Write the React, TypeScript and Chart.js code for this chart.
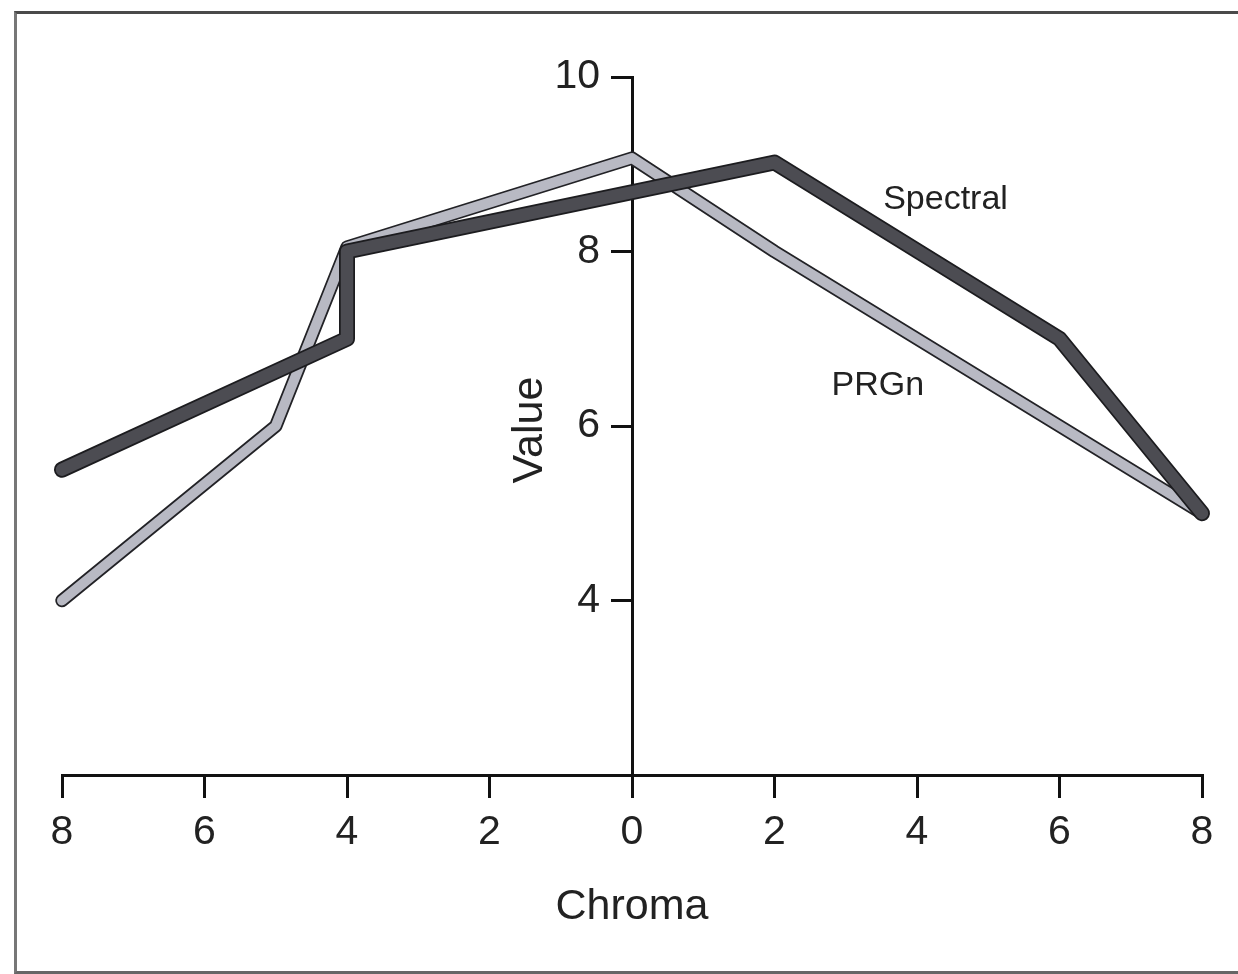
import React, { useEffect, useRef } from "react";
import { Chart, registerables } from "chart.js";

Chart.register(...registerables);

// ---- data ----
const spectralX = [-8, -4, -4, 2, 6, 8];
const spectralY = [5.5, 7.0, 8.0, 9.02, 7.0, 5.0];
const prgnX = [-8, -5, -4, 0, 2, 8];
const prgnY = [4.0, 6.0, 8.05, 9.07, 8.0, 5.0];
const xTicks = [-8, -6, -4, -2, 0, 2, 4, 6, 8];
const yTicks = [4, 6, 8, 10];
const seriesNames = ["Spectral", "PRGn"];
const labelX = [4.4, 3.45];
const labelY = [8.6, 6.46];
const yTitle = "Value";
const xTitle = "Chroma";

const FONT = "'Liberation Sans', Arial, Helvetica, sans-serif";
const Y_TICK_LEN = 20;
const Y_TICK_PAD = 12;
const Y_TITLE_GAP = 102;

const toPts = (xs: number[], ys: number[]) => xs.map((x, i) => ({ x, y: ys[i] }));

// draws the line names, the y tick labels and the y title (left of the centred y axis)
const textPlugin = {
  id: "textPlugin",
  afterDraw(chart: any) {
    const { ctx, scales } = chart;
    const axisX = scales.x.getPixelForValue(0);
    ctx.save();
    ctx.font = `34px ${FONT}`;
    ctx.fillStyle = "#222";
    ctx.textAlign = "center";
    ctx.textBaseline = "middle";
    seriesNames.forEach((name, i) => {
      ctx.fillText(name, scales.x.getPixelForValue(labelX[i]), scales.y.getPixelForValue(labelY[i]));
    });
    ctx.font = `41px ${FONT}`;
    ctx.textAlign = "right";
    scales.y.ticks.forEach((t: any) => {
      ctx.fillText(String(t.value), axisX - Y_TICK_LEN - Y_TICK_PAD, scales.y.getPixelForValue(t.value));
    });
    ctx.translate(axisX - Y_TITLE_GAP, (scales.y.top + scales.y.bottom) / 2 + 4);
    ctx.rotate(-Math.PI / 2);
    ctx.textAlign = "center";
    ctx.font = `43px ${FONT}`;
    ctx.fillText(yTitle, 0, 0);
    ctx.restore();
  },
};

export default function App() {
  const ref = useRef<HTMLCanvasElement>(null);
  useEffect(() => {
    if (!ref.current) return;
    const spectral = toPts(spectralX, spectralY);
    const prgn = toPts(prgnX, prgnY);
    const common = {
      showLine: true,
      pointRadius: 0,
      pointHoverRadius: 0,
      borderCapStyle: "round",
      borderJoinStyle: "round",
      tension: 0,
      fill: false,
      clip: false,
    };
    const chart = new Chart(ref.current, {
      type: "scatter",
      data: {
        datasets: [
          { ...common, label: "PRGn outline", data: prgn, borderColor: "#222226", borderWidth: 13.5, order: 4 },
          { ...common, label: "PRGn", data: prgn, borderColor: "#b8b9c3", borderWidth: 10, order: 3 },
          { ...common, label: "Spectral outline", data: spectral, borderColor: "#1c1c1f", borderWidth: 16, order: 2 },
          { ...common, label: "Spectral", data: spectral, borderColor: "#4c4c52", borderWidth: 12.5, order: 1 },
        ] as any,
      },
      options: {
        animation: false,
        responsive: false,
        devicePixelRatio: 1,
        layout: { padding: { left: 62, right: 36, top: 77, bottom: 0 } },
        plugins: { legend: { display: false }, tooltip: { enabled: false } },
        scales: {
          x: {
            type: "linear",
            position: "bottom",
            min: -8,
            max: 8,
            afterFit: (s: any) => {
              s.height = 199;
            },
            afterBuildTicks: (s: any) => {
              s.ticks = xTicks.map((v) => ({ value: v }));
            },
            ticks: {
              color: "#222",
              font: { size: 41, family: FONT },
              padding: 10,
              maxRotation: 0,
              callback: (v: any) => String(Math.abs(Number(v))),
            },
            grid: { drawOnChartArea: false, drawTicks: true, tickLength: 23, lineWidth: 3, color: "#111" },
            border: { display: true, width: 3, color: "#111" },
            title: {
              display: true,
              text: xTitle,
              color: "#222",
              font: { size: 43, family: FONT },
              padding: { top: 0, bottom: 41 },
            },
          },
          y: {
            type: "linear",
            position: { x: 0 } as any,
            min: 2,
            max: 10,
            afterBuildTicks: (s: any) => {
              s.ticks = yTicks.map((v) => ({ value: v }));
            },
            ticks: {
              color: "rgba(0,0,0,0)",
              font: { size: 41, family: FONT },
              padding: Y_TICK_PAD,
            },
            grid: { drawOnChartArea: false, drawTicks: true, tickLength: Y_TICK_LEN, lineWidth: 3, color: "#111" },
            border: { display: true, width: 3, color: "#111" },
            title: { display: false },
          },
        },
      } as any,
      plugins: [textPlugin],
    });
    return () => chart.destroy();
  }, []);

  return (
    <div style={{ position: "absolute", left: 0, top: 0, width: 1238, height: 974, overflow: "hidden", background: "#fff" }}>
      <div
        style={{
          position: "absolute",
          left: 14,
          top: 11,
          width: 1300,
          height: 957,
          borderTop: "3px solid #4a4a4a",
          borderLeft: "3px solid #777",
          borderBottom: "3px solid #666",
        }}
      />
      <canvas ref={ref} width={1238} height={974} style={{ position: "absolute", left: 0, top: 0 }} />
    </div>
  );
}
